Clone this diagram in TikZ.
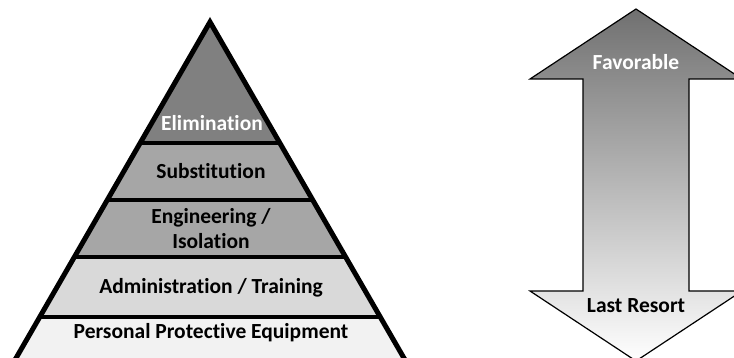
\documentclass[tikz,border=0pt]{standalone}
\usepackage{fontspec}
\setmainfont{Carlito}[Ligatures=NoCommon]
\definecolor{elimgray}{HTML}{808080}
\definecolor{substgray}{HTML}{A6A6A6}
\definecolor{engrgray}{HTML}{A6A6A6}
\definecolor{admingray}{HTML}{D9D9D9}
\definecolor{ppegray}{HTML}{F2F2F2}
\definecolor{arrowtop}{HTML}{707070}
\begin{document}
\begin{tikzpicture}[x=1pt,y=-1pt,
  lbl/.style={font=\fontsize{21.5}{25}\selectfont\bfseries, align=center, inner sep=0pt},
  seprule/.style={line width=4pt, black},
  pyredge/.style={line width=5pt, black, line join=miter},
  arrowedge/.style={line width=1.2pt, black, line join=miter}]
\useasboundingbox (0,0) rectangle (734,358);

% pyramid corners (base lies below the page edge)
\coordinate (apex) at (210,22);
\coordinate (bl) at (3.4,380);
\coordinate (br) at (416.6,380);

% bands of the hierarchy
\begin{scope}
  \clip (apex) -- (bl) -- (br) -- cycle;
  \fill[elimgray]  (0,0)   rectangle (420,143);
  \fill[substgray] (0,143) rectangle (420,200);
  \fill[engrgray]  (0,200) rectangle (420,257);
  \fill[admingray] (0,257) rectangle (420,317);
  \fill[ppegray]   (0,317) rectangle (420,380);
  \draw[seprule] (0,143) -- (420,143);
  \draw[seprule] (0,200) -- (420,200);
  \draw[seprule] (0,257) -- (420,257);
  \draw[seprule] (0,317) -- (420,317);
\end{scope}
\draw[pyredge] (bl) -- (apex) -- (br);

\node[lbl, text=white] (elim) at (212,123) {Elimination};
\node[lbl] (subst) at (211,171) {Substitution};
\node[lbl] (engr) at (211,228.5) {Engineering /\\Isolation};
\node[lbl] (admin) at (211,288) {Administration / Training};
\node[lbl] (ppe) at (211,333) {Personal Protective Equipment};

% double-headed arrow with vertical gradient
\draw[arrowedge, top color=arrowtop, bottom color=white]
  (636,9) -- (742,79) -- (689,79) -- (689,291) -- (742,291) -- (636,361)
  -- (530,291) -- (583,291) -- (583,79) -- (530,79) -- cycle;

\node[lbl, text=white] (fav) at (636,62) {Favorable};
\node[lbl] (last) at (636,306) {Last Resort};
\end{tikzpicture}
\end{document}
